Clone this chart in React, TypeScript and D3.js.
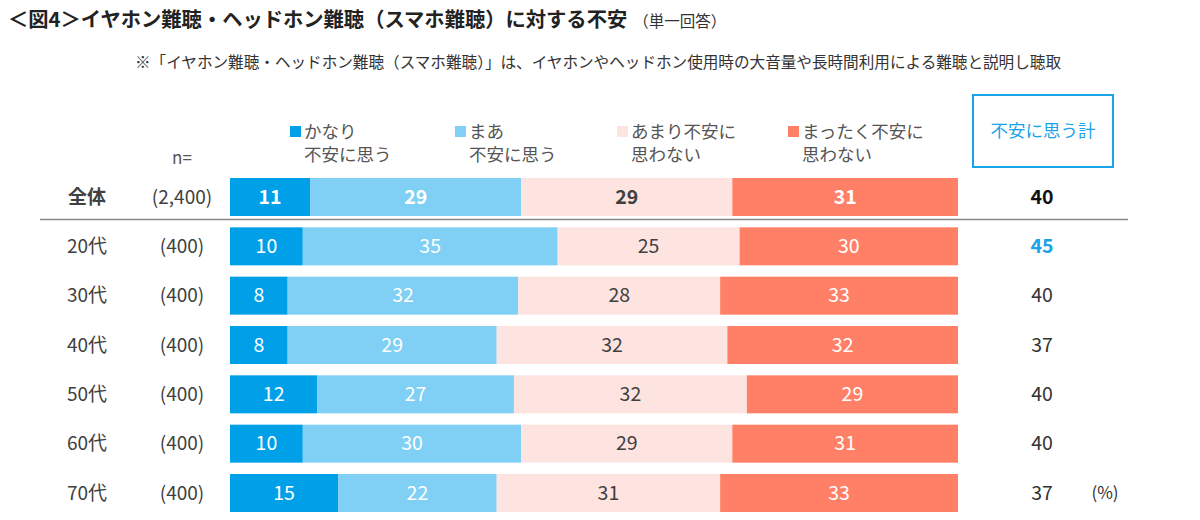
import React from "react";
import * as d3 from "d3";

const categories = ["全体", "20代", "30代", "40代", "50代", "60代", "70代"];
const sampleSizes = ["(2,400)", "(400)", "(400)", "(400)", "(400)", "(400)", "(400)"];
const veryAnxious = [11, 10, 8, 8, 12, 10, 15];
const somewhatAnxious = [29, 35, 32, 29, 27, 30, 22];
const notVeryAnxious = [29, 25, 28, 32, 32, 29, 31];
const notAtAllAnxious = [31, 30, 33, 32, 29, 31, 33];
const anxiousTotal = [40, 45, 40, 37, 40, 40, 37];

const seriesNames = [
  ["かなり", "不安に思う"],
  ["まあ", "不安に思う"],
  ["あまり不安に", "思わない"],
  ["まったく不安に", "思わない"],
];
const seriesValues = [veryAnxious, somewhatAnxious, notVeryAnxious, notAtAllAnxious];
const colors = ["#00A0E9", "#80CFF4", "#FDE4E1", "#FF8066"];
const textColors = ["#ffffff", "#ffffff", "#404040", "#ffffff"];

const FONT = "'Noto Sans CJK JP', 'Noto Sans', sans-serif";

export default function App() {
  const W = 1200, H = 520;
  const x0 = 230, x1 = 958;
  const y = d3.scalePoint<string>().domain(categories).range([197, 493]);
  const barH = 38;
  const legendX = [290, 455, 617, 788];

  return (
    <div style={{ position: "absolute", left: 0, top: 0 }}>
      <svg width={W} height={H} style={{ display: "block", fontFamily: FONT }}>
        <rect width={W} height={H} fill="#fff" />
        <text x={8} y={27} fontSize={20.3} fontWeight="bold" fill="#222">
          ＜図4＞イヤホン難聴・ヘッドホン難聴（スマホ難聴）に対する不安
          <tspan fontSize={15.5} fontWeight="normal" dx={6} fill="#333">（単一回答）</tspan>
        </text>
        <text x={598} y={68} fontSize={15.6} textAnchor="middle" fill="#333">
          ※「イヤホン難聴・ヘッドホン難聴（スマホ難聴）」は、イヤホンやヘッドホン使用時の大音量や長時間利用による難聴と説明し聴取
        </text>

        {seriesNames.map((lines, i) => (
          <g key={i}>
            <rect x={legendX[i]} y={126} width={11} height={11} fill={colors[i]} />
            <text x={legendX[i] + 14} y={138} fontSize={17.5} fill="#555">{lines[0]}</text>
            <text x={legendX[i] + 14} y={161} fontSize={17.5} fill="#555">{lines[1]}</text>
          </g>
        ))}

        <text x={182} y={164} fontSize={17} textAnchor="middle" fill="#555">n=</text>

        <rect x={973} y={95} width={140} height={72} fill="none" stroke="#1AA3E8" strokeWidth={2} />
        <text x={1043} y={137} fontSize={17.5} textAnchor="middle" fill="#1AA3E8">不安に思う計</text>

        {categories.map((c, r) => {
          const cy = y(c)!;
          const bold = r === 0;
          const vals = seriesValues.map((s) => s[r]);
          const total = d3.sum(vals);
          const xs = d3.scaleLinear().domain([0, total]).range([x0, x1]);
          let acc = 0;
          return (
            <g key={c}>
              <text x={87} y={cy} dy="0.35em" fontSize={19} fontWeight={bold ? "bold" : "normal"} textAnchor="middle" fill="#404040">{c}</text>
              <text x={182} y={cy} dy="0.35em" fontSize={19} textAnchor="middle" fill="#404040">{sampleSizes[r]}</text>
              {vals.map((v, i) => {
                const a = acc;
                acc += v;
                const xa = xs(a), xb = xs(acc);
                return (
                  <g key={i}>
                    <rect x={xa} y={cy - barH / 2} width={xb - xa} height={barH} fill={colors[i]} />
                    <text x={(xa + xb) / 2} y={cy} dy="0.35em" fontSize={19.5} fontWeight={bold ? "bold" : "normal"} textAnchor="middle" fill={textColors[i]}>{v}</text>
                  </g>
                );
              })}
              <text x={1042} y={cy} dy="0.35em" fontSize={19.5} fontWeight={bold || r === 1 ? "bold" : "normal"} textAnchor="middle" fill={r === 1 ? "#1AA3E8" : bold ? "#111" : "#333"}>{anxiousTotal[r]}</text>
            </g>
          );
        })}

        <line x1={40} x2={1128} y1={219.5} y2={219.5} stroke="#888" strokeWidth={1.5} />
        <text x={1105} y={y("70代")!} dy="0.35em" fontSize={17} textAnchor="middle" fill="#333">(%)</text>
      </svg>
    </div>
  );
}
